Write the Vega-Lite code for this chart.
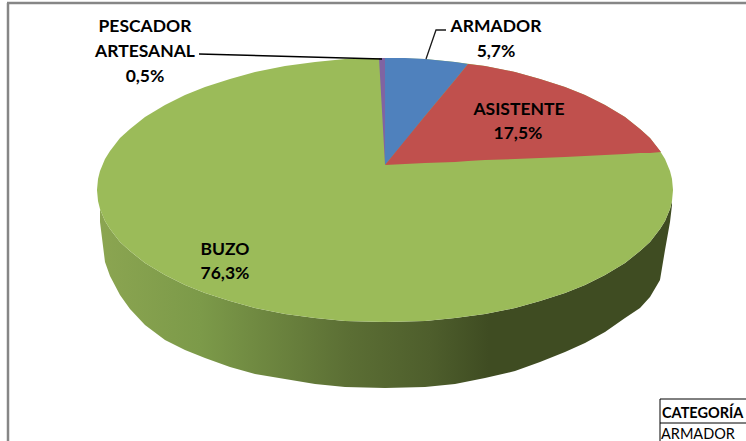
{"$schema":"https://vega.github.io/schema/vega-lite/v6.json","width":746,"height":441,"autosize":{"type":"none"},"padding":0,"background":"white","config":{"view":{"stroke":null}},
"datasets":{
"side":[{"x":100,"y":209,"y2":222},{"x":105,"y":221,"y2":262},{"x":110,"y":229,"y2":276},{"x":120,"y":242,"y2":295},{"x":130,"y":251,"y2":309},{"x":145,"y":263,"y2":325},{"x":165,"y":275,"y2":340},{"x":185,"y":285,"y2":350},{"x":205,"y":293,"y2":358},{"x":230,"y":301,"y2":367},{"x":255,"y":308,"y2":374},{"x":285,"y":314,"y2":379},{"x":315,"y":318,"y2":384},{"x":345,"y":321,"y2":387},{"x":385,"y":322,"y2":388},{"x":425,"y":321,"y2":387},{"x":455,"y":318,"y2":384},{"x":485,"y":314,"y2":378},{"x":515,"y":308,"y2":371},{"x":540,"y":301,"y2":362},{"x":565,"y":293,"y2":352},{"x":585,"y":285,"y2":343},{"x":605,"y":275,"y2":332},{"x":625,"y":263,"y2":318},{"x":640,"y":251,"y2":308},{"x":650,"y":242,"y2":297},{"x":660,"y":229,"y2":280},{"x":665,"y":221,"y2":250},{"x":670,"y":209,"y2":222},{"x":672,"y":201,"y2":205}],
"buzo":[{"x":97,"y":190,"y2":190},{"x":98,"y":179,"y2":201},{"x":100,"y":171,"y2":209},{"x":105,"y":159,"y2":221},{"x":110,"y":151,"y2":229},{"x":120,"y":138,"y2":242},{"x":130,"y":129,"y2":251},{"x":145,"y":117,"y2":263},{"x":165,"y":105,"y2":275},{"x":185,"y":95,"y2":285},{"x":205,"y":87,"y2":293},{"x":230,"y":79,"y2":301},{"x":255,"y":72,"y2":308},{"x":285,"y":66,"y2":314},{"x":315,"y":62,"y2":318},{"x":345,"y":59,"y2":321},{"x":385,"y":58,"y2":322},{"x":425,"y":59,"y2":321},{"x":455,"y":62,"y2":318},{"x":485,"y":66,"y2":314},{"x":515,"y":72,"y2":308},{"x":540,"y":79,"y2":301},{"x":565,"y":87,"y2":293},{"x":585,"y":95,"y2":285},{"x":605,"y":105,"y2":275},{"x":625,"y":117,"y2":263},{"x":640,"y":129,"y2":251},{"x":650,"y":138,"y2":242},{"x":660,"y":151,"y2":229},{"x":665,"y":159,"y2":221},{"x":670,"y":171,"y2":209},{"x":672,"y":179,"y2":201},{"x":673,"y":190,"y2":190}],
"pescador":[{"x":379,"y":58,"y2":58},{"x":382,"y":58,"y2":111},{"x":385,"y":58,"y2":165}],
"armador":[{"x":385,"y":58,"y2":165},{"x":405,"y":58,"y2":141},{"x":425,"y":59,"y2":116},{"x":445,"y":61,"y2":92},{"x":455,"y":62,"y2":80},{"x":468,"y":64,"y2":64}],
"asistente":[{"x":385,"y":165,"y2":165},{"x":425,"y":116,"y2":163},{"x":455,"y":80,"y2":162},{"x":468,"y":64,"y2":161},{"x":485,"y":66,"y2":160},{"x":515,"y":72,"y2":159},{"x":540,"y":79,"y2":158},{"x":565,"y":87,"y2":157},{"x":585,"y":95,"y2":156},{"x":605,"y":105,"y2":155},{"x":625,"y":117,"y2":154},{"x":640,"y":129,"y2":153},{"x":650,"y":138,"y2":153},{"x":661,"y":152,"y2":152}],
"labels":[{"x":145,"y":27,"t":"PESCADOR"},{"x":145,"y":52,"t":"ARTESANAL"},{"x":145,"y":77,"t":"0,5%"},{"x":496,"y":27,"t":"ARMADOR"},{"x":496,"y":52,"t":"5,7%"},{"x":519,"y":110,"t":"ASISTENTE"},{"x":518,"y":134,"t":"17,5%"},{"x":225,"y":250,"t":"BUZO"},{"x":225,"y":274,"t":"76,3%"}]
},
"encoding":{
"x":{"field":"x","type":"quantitative","scale":{"domain":[0,746],"nice":false,"zero":false},"axis":null},
"y":{"field":"y","type":"quantitative","scale":{"domain":[441,0],"nice":false,"zero":false},"axis":null}
},
"layer":[
{"data":{"name":"side"},"mark":{"type":"area","color":{"gradient":"linear","x1":0,"y1":0,"x2":1,"y2":0,"stops":[{"offset":0,"color":"#8ba551"},{"offset":0.175,"color":"#7c9a49"},{"offset":0.437,"color":"#5b6e34"},{"offset":0.577,"color":"#4e5e2c"},{"offset":0.68,"color":"#3f4c22"},{"offset":1,"color":"#3f4c22"}]}},"encoding":{"y2":{"field":"y2"}}},
{"data":{"name":"buzo"},"mark":{"type":"area","color":"#9bbb59"},"encoding":{"y2":{"field":"y2"}}},
{"data":{"name":"pescador"},"mark":{"type":"area","color":"#8064a2"},"encoding":{"y2":{"field":"y2"}}},
{"data":{"name":"armador"},"mark":{"type":"area","color":"#4f81bd"},"encoding":{"y2":{"field":"y2"}}},
{"data":{"name":"asistente"},"mark":{"type":"area","color":"#c0504d"},"encoding":{"y2":{"field":"y2"}}},
{"data":{"values":[{"x":199,"y":54},{"x":382,"y":59}]},"mark":{"type":"line","color":"#000000","strokeWidth":1.5}},
{"data":{"values":[{"x":426,"y":59},{"x":436,"y":30},{"x":446,"y":30}]},"mark":{"type":"line","color":"#1a1a1a","strokeWidth":1.3}},
{"data":{"name":"labels"},"mark":{"type":"text","font":"Lato","fontWeight":"bold","fontSize":17.5,"color":"#000000","align":"center","baseline":"middle"},"encoding":{"text":{"field":"t"}}},
{"data":{"values":[{"id":"a","x":7,"y":3},{"id":"a","x":746,"y":3},{"id":"b","x":8,"y":3},{"id":"b","x":8,"y":441}]},"mark":{"type":"line","color":"#868686","strokeWidth":2.5},"encoding":{"detail":{"field":"id"}}},
{"data":{"values":[{"id":"a","x":660,"y":399},{"id":"a","x":746,"y":399},{"id":"b","x":660,"y":423},{"id":"b","x":746,"y":423},{"id":"c","x":660,"y":399},{"id":"c","x":660,"y":441}]},"mark":{"type":"line","color":"#000000","strokeWidth":1},"encoding":{"detail":{"field":"id"}}},
{"data":{"values":[{"x":662,"y":414,"t":"CATEGORÍA"}]},"mark":{"type":"text","font":"Lato","fontWeight":"bold","fontSize":14.5,"color":"#000000","align":"left","baseline":"middle"},"encoding":{"text":{"field":"t"}}},
{"data":{"values":[{"x":661,"y":435,"t":"ARMADOR"}]},"mark":{"type":"text","font":"Lato","fontSize":14.5,"color":"#000000","align":"left","baseline":"middle"},"encoding":{"text":{"field":"t"}}}
]}
